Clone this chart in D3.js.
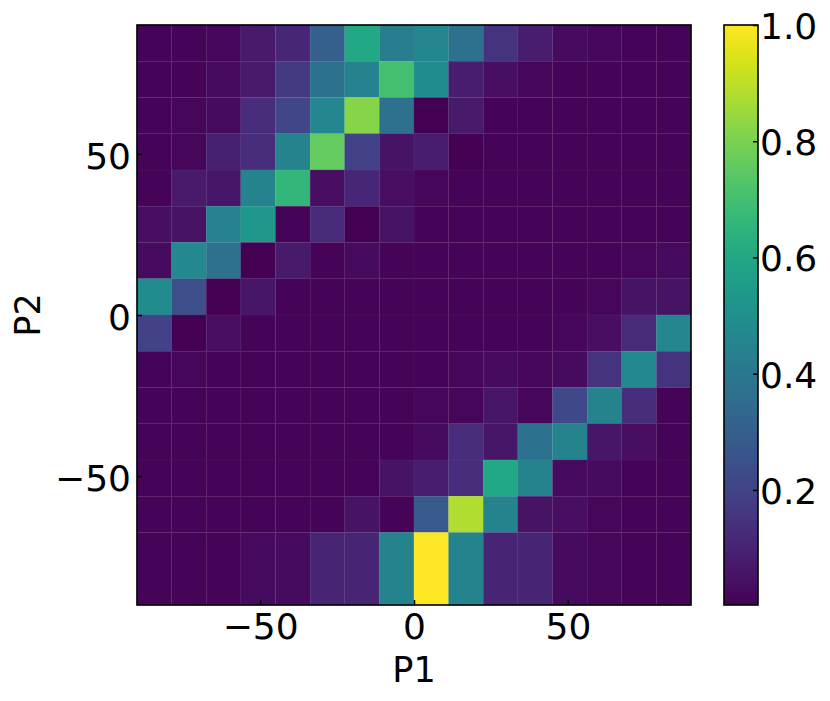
<!DOCTYPE html>
<html><head><meta charset="utf-8">
<script src="https://cdn.jsdelivr.net/npm/d3@7"></script>
<style>body{margin:0;background:#fff}svg{display:block}text{font-family:"DejaVu Sans",sans-serif}</style>
</head><body>
<script>
// P1 bin edges (x) and P2 bin edges (y, top to bottom)
const xEdges = [-90,-78.75,-67.5,-56.25,-45,-33.75,-22.5,-11.25,0,11.25,22.5,33.75,45,56.25,67.5,78.75,90];
const yEdges = [90,78.75,67.5,56.25,45,33.75,22.5,11.25,0,-11.25,-22.5,-33.75,-45,-56.25,-67.5,-90];
// values, rows from top (P2 high) to bottom, columns from P1 low to high
const values = [
  [0.01,0.01,0.02,0.07,0.11,0.30,0.60,0.42,0.46,0.37,0.15,0.08,0.03,0.02,0.01,0.01],
  [0.01,0.01,0.03,0.07,0.17,0.38,0.44,0.70,0.48,0.08,0.04,0.02,0.01,0.01,0.01,0.01],
  [0.01,0.02,0.03,0.13,0.21,0.46,0.82,0.37,0.00,0.07,0.01,0.01,0.01,0.01,0.01,0.01],
  [0.01,0.02,0.09,0.13,0.45,0.76,0.20,0.05,0.08,0.00,0.01,0.01,0.01,0.01,0.01,0.01],
  [0.01,0.07,0.06,0.45,0.66,0.04,0.11,0.04,0.02,0.01,0.01,0.01,0.01,0.01,0.01,0.01],
  [0.04,0.05,0.44,0.53,0.01,0.12,0.00,0.05,0.01,0.01,0.01,0.01,0.01,0.01,0.01,0.01],
  [0.03,0.47,0.37,0.00,0.07,0.01,0.03,0.01,0.01,0.01,0.01,0.01,0.01,0.01,0.02,0.03],
  [0.48,0.24,0.00,0.06,0.01,0.01,0.01,0.01,0.01,0.01,0.01,0.01,0.01,0.02,0.05,0.05],
  [0.20,0.00,0.04,0.01,0.01,0.01,0.01,0.01,0.01,0.01,0.01,0.01,0.02,0.04,0.12,0.46],
  [0.01,0.02,0.01,0.01,0.01,0.01,0.01,0.01,0.01,0.02,0.03,0.02,0.03,0.15,0.47,0.15],
  [0.01,0.01,0.01,0.01,0.01,0.01,0.01,0.01,0.02,0.02,0.06,0.02,0.22,0.45,0.13,0.01],
  [0.01,0.01,0.01,0.01,0.01,0.01,0.01,0.01,0.03,0.13,0.06,0.38,0.45,0.06,0.04,0.01],
  [0.01,0.01,0.01,0.01,0.01,0.01,0.01,0.05,0.08,0.13,0.60,0.45,0.03,0.03,0.01,0.01],
  [0.01,0.01,0.01,0.01,0.01,0.01,0.05,0.01,0.28,0.88,0.45,0.05,0.04,0.02,0.01,0.01],
  [0.01,0.01,0.01,0.03,0.03,0.10,0.10,0.45,1.00,0.45,0.10,0.10,0.03,0.02,0.01,0.01]
];
const xTicks = [-50,0,50];
const yTicks = [-50,0,50];
const cbTicks = [0.2,0.4,0.6,0.8,1.0];
const xLabel = "P1", yLabel = "P2";
const vmin = 0.002, vmax = 1.0;

const W = 830, H = 701;
const plot = {left:137, right:691, top:25, bottom:605};
const cb = {left:724, right:758, top:25, bottom:605};
const fs = 36;

const svg = d3.select("body").append("svg").attr("width",W).attr("height",H);
const x = d3.scaleLinear().domain([-90,90]).range([plot.left,plot.right]);
const y = d3.scaleLinear().domain([-90,90]).range([plot.bottom,plot.top]);
const color = d3.scaleSequential(d3.interpolateViridis).domain([vmin,vmax]);

const cells = [];
values.forEach((row,r)=>row.forEach((v,c)=>cells.push({
  x0:xEdges[c], x1:xEdges[c+1], y0:yEdges[r], y1:yEdges[r+1], v})));

svg.append("g").selectAll("rect").data(cells).join("rect")
  .attr("x",d=>x(d.x0)).attr("y",d=>y(d.y0))
  .attr("width",d=>x(d.x1)-x(d.x0)).attr("height",d=>y(d.y1)-y(d.y0))
  .attr("fill",d=>color(Math.max(vmin,d.v)))
  .attr("stroke",d=>color(Math.max(vmin,d.v)))
  .attr("stroke-width",0.3);
// faint cell edges
svg.append("g").selectAll("rect").data(cells).join("rect")
  .attr("x",d=>x(d.x0)).attr("y",d=>y(d.y0))
  .attr("width",d=>x(d.x1)-x(d.x0)).attr("height",d=>y(d.y1)-y(d.y0))
  .attr("fill","none").attr("stroke","rgba(255,255,255,0.04)").attr("stroke-width",0.8);

const fmt = d=>d<0?"\u2212"+Math.abs(d):String(d);
const xAxis = d3.axisBottom(x).tickValues(xTicks).tickSize(-5).tickPadding(8).tickFormat(fmt);
const gx = svg.append("g").attr("transform",`translate(0,${plot.bottom})`).call(xAxis);
const yAxis = d3.axisLeft(y).tickValues(yTicks).tickSize(-5).tickPadding(6).tickFormat(fmt);
const gy = svg.append("g").attr("transform",`translate(${plot.left},0)`).call(yAxis);
[gx,gy].forEach(g=>{
  g.select(".domain").remove();
  g.selectAll(".tick line").attr("stroke","#000").attr("stroke-width",1.5);
  g.selectAll(".tick text").attr("font-size",fs).attr("fill","#000").attr("font-family","DejaVu Sans");
});
gx.selectAll(".tick text").attr("dy","0.73em");
gy.selectAll(".tick text").attr("dy","0.4em");

svg.append("rect").attr("x",plot.left).attr("y",plot.top)
  .attr("width",plot.right-plot.left).attr("height",plot.bottom-plot.top)
  .attr("fill","none").attr("stroke","#000").attr("stroke-width",1.6);

svg.append("text").attr("x",(plot.left+plot.right)/2).attr("y",682)
  .attr("text-anchor","middle").attr("font-size",35).text(xLabel);
svg.append("text").attr("transform",`translate(40,${(plot.top+plot.bottom)/2}) rotate(-90)`)
  .attr("text-anchor","middle").attr("font-size",35).text(yLabel);

// colorbar
const defs = svg.append("defs");
const grad = defs.append("linearGradient").attr("id","cbg").attr("x1",0).attr("y1",1).attr("x2",0).attr("y2",0);
d3.range(0,1.0001,0.02).forEach(t=>grad.append("stop").attr("offset",t).attr("stop-color",d3.interpolateViridis(t)));
svg.append("rect").attr("x",cb.left).attr("y",cb.top).attr("width",cb.right-cb.left).attr("height",cb.bottom-cb.top)
  .attr("fill","url(#cbg)");
const cy = d3.scaleLinear().domain([vmin,vmax]).range([cb.bottom,cb.top]);
const cAxis = d3.axisRight(cy).tickValues(cbTicks).tickSize(-5).tickPadding(2).tickFormat(d3.format(".1f"));
const gc = svg.append("g").attr("transform",`translate(${cb.right},0)`).call(cAxis);
gc.select(".domain").remove();
gc.selectAll(".tick line").attr("stroke","#000").attr("stroke-width",1.5);
gc.selectAll(".tick text").attr("font-size",fs).attr("fill","#000").attr("font-family","DejaVu Sans").attr("dy","0.37em");
svg.append("rect").attr("x",cb.left).attr("y",cb.top).attr("width",cb.right-cb.left).attr("height",cb.bottom-cb.top)
  .attr("fill","none").attr("stroke","#000").attr("stroke-width",1.6);
</script>
</body></html>
